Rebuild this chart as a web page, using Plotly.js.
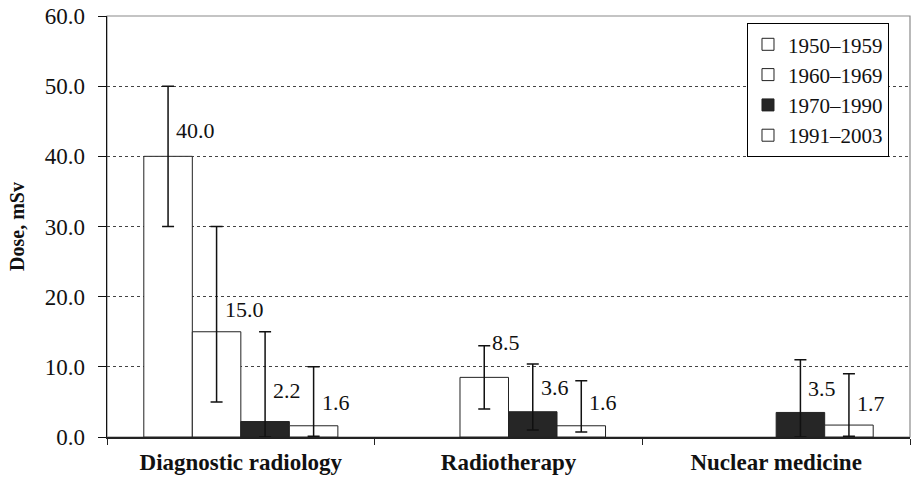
<!DOCTYPE html>
<html>
<head>
<meta charset="utf-8">
<script src="https://cdn.plot.ly/plotly-3.0.1.min.js"></script>
<style>html,body{margin:0;padding:0;background:#fff}#chart{width:914px;height:480px}</style>
</head>
<body>
<div id="chart"></div>
<script>
// ---- data ----
const categories = ["Diagnostic radiology", "Radiotherapy", "Nuclear medicine"];
const seriesNames = ["1950\u20131959", "1960\u20131969", "1970\u20131990", "1991\u20132003"];
const dose1950 = [40.0, null, null];
const dose1960 = [15.0, 8.5, null];
const dose1970 = [2.2, 3.6, 3.5];
const dose1991 = [1.6, 1.6, 1.7];
const errPlus1950 = [10, null, null];
const errMinus1950 = [10, null, null];
const errPlus1960 = [15, 4.5, null];
const errMinus1960 = [10, 4.5, null];
const errPlus1970 = [12.8, 6.8, 7.5];
const errMinus1970 = [2.2, 2.6, 3.5];
const errPlus1991 = [8.4, 6.4, 7.3];
const errMinus1991 = [1.5, 0.9, 1.6];
const yTickVals = [0, 10, 20, 30, 40, 50, 60];

// ---- styling ----
const fills = ["#ffffff", "#ffffff", "#262626", "#ffffff"];
const values = [dose1950, dose1960, dose1970, dose1991];
const plus = [errPlus1950, errPlus1960, errPlus1970, errPlus1991];
const minus = [errMinus1950, errMinus1960, errMinus1970, errMinus1991];
// vertical lift (px) of each value label above its bar top
const labelLift = [[26, 0, 0], [22, 35, 0], [31, 24, 24], [23, 23, 22]];

const serif = "'Liberation Serif', 'Times New Roman', serif";
const margin = {l: 107, r: 4, t: 16, b: 43};
const plotW = 914 - margin.l - margin.r;
const bargap = 0.275;
const barPx = plotW / categories.length * (1 - bargap) / seriesNames.length;

const traces = seriesNames.map((name, i) => ({
  type: "bar",
  name: name,
  x: categories,
  y: values[i],
  marker: {color: fills[i], line: {color: "#222", width: 1}},
  error_y: {type: "data", symmetric: false, array: plus[i], arrayminus: minus[i],
            color: "#111", thickness: 1.5, width: 6},
  hoverinfo: "none"
}));

const annotations = [];
values.forEach((arr, i) => {
  arr.forEach((v, c) => {
    if (v === null) return;
    annotations.push({
      x: categories[c], y: v, xref: "x", yref: "y",
      text: v.toFixed(1), showarrow: false,
      xanchor: "left", yanchor: "middle",
      xshift: (i - 1.5) * barPx + 6, yshift: labelLift[i][c],
      font: {family: serif, size: 22, color: "#111"}
    });
  });
});

const layout = {
  width: 914, height: 480,
  margin: margin,
  paper_bgcolor: "#fff", plot_bgcolor: "#fff",
  barmode: "group", bargap: bargap, bargroupgap: 0,
  showlegend: true,
  legend: {
    x: 0.797, y: 0.983, xanchor: "left", yanchor: "top",
    bgcolor: "#fff", bordercolor: "#000", borderwidth: 1,
    font: {family: serif, size: 21, color: "#111"},
    tracegroupgap: 0, itemwidth: 30, entrywidth: 150
  },
  xaxis: {
    type: "category",
    showline: true, linecolor: "#222", linewidth: 1.5,
    ticks: "outside", tickson: "boundaries", ticklen: 6, tickcolor: "#222", tickwidth: 1,
    showgrid: false,
    tickfont: {family: serif, size: 23, color: "#111", weight: "bold"},
    ticklabelstandoff: 4,
    fixedrange: true
  },
  yaxis: {
    range: [0, 60], tickvals: yTickVals, tickformat: ".1f",
    showline: true, linecolor: "#111", linewidth: 1.5,
    ticks: "outside", ticklen: 8, tickcolor: "#111", tickwidth: 1,
    showgrid: true, gridcolor: "#444", griddash: "dot", gridwidth: 1,
    zeroline: false,
    tickfont: {family: serif, size: 23, color: "#111"},
    ticklabelstandoff: 8,
    title: {text: "Dose, mSv", font: {family: serif, size: 20, color: "#111", weight: "bold"}, standoff: 14},
    fixedrange: true
  },
  shapes: [{
    type: "rect", xref: "paper", yref: "paper", x0: 0, x1: 1, y0: 0, y1: 1,
    line: {color: "#8a8a8a", width: 1.2}, layer: "below"
  }],
  annotations: annotations
};

Plotly.newPlot("chart", traces, layout, {staticPlot: true, displayModeBar: false});
</script>
</body>
</html>
